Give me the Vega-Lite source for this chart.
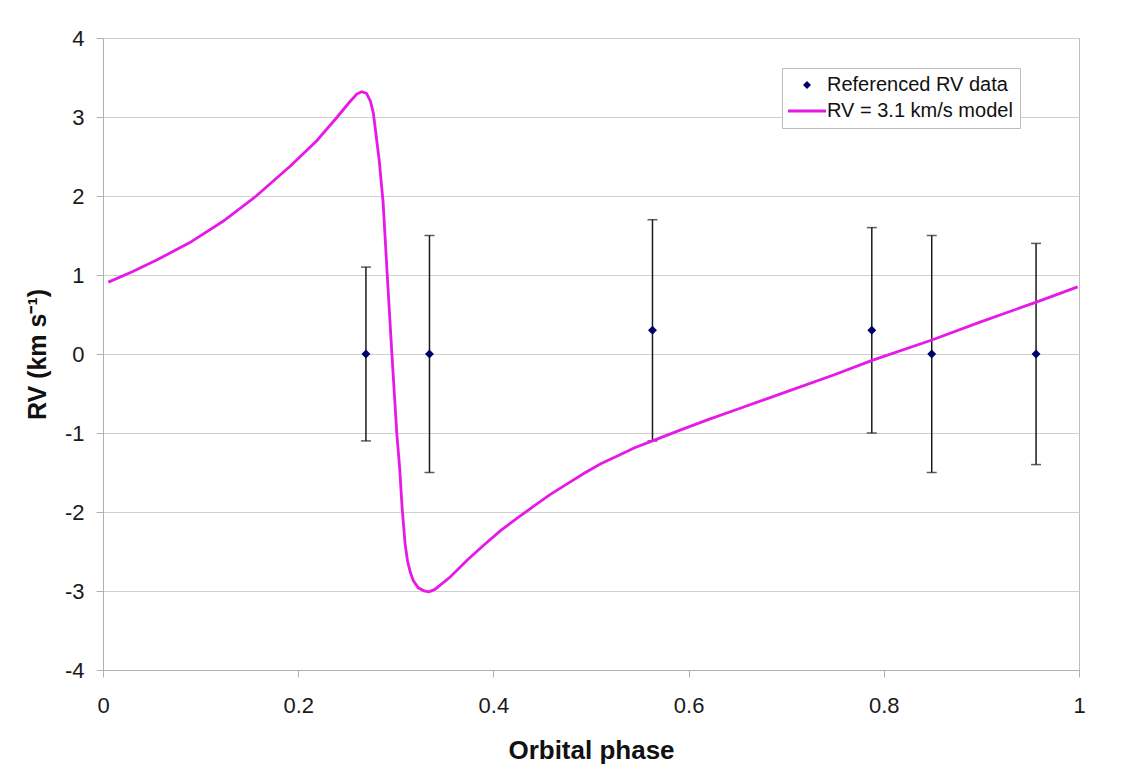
{
  "$schema": "https://vega.github.io/schema/vega-lite/v6.json",
  "width": 976,
  "height": 632,
  "autosize": "none",
  "padding": {"left": 103, "top": 38, "right": 58, "bottom": 105},
  "background": "white",
  "config": {
    "font": "Liberation Sans",
    "view": {"stroke": "#bdbdbd", "strokeWidth": 1}
  },
  "datasets": {
    "rv": [
      {"phase": 0.2694, "rv": 0.0, "lo": -1.1, "hi": 1.1, "series": "Referenced RV data"},
      {"phase": 0.3345, "rv": 0.0, "lo": -1.5, "hi": 1.5, "series": "Referenced RV data"},
      {"phase": 0.563, "rv": 0.3, "lo": -1.1, "hi": 1.7, "series": "Referenced RV data"},
      {"phase": 0.7877, "rv": 0.3, "lo": -1.0, "hi": 1.6, "series": "Referenced RV data"},
      {"phase": 0.8491, "rv": 0.0, "lo": -1.5, "hi": 1.5, "series": "Referenced RV data"},
      {"phase": 0.956, "rv": 0.0, "lo": -1.4, "hi": 1.4, "series": "Referenced RV data"}
    ],
    "model": [
      {"phase": 0.0055, "rv": 0.91, "series": "RV = 3.1 km/s model"},
      {"phase": 0.03, "rv": 1.04, "series": "RV = 3.1 km/s model"},
      {"phase": 0.055, "rv": 1.19, "series": "RV = 3.1 km/s model"},
      {"phase": 0.089, "rv": 1.41, "series": "RV = 3.1 km/s model"},
      {"phase": 0.123, "rv": 1.68, "series": "RV = 3.1 km/s model"},
      {"phase": 0.157, "rv": 2.0, "series": "RV = 3.1 km/s model"},
      {"phase": 0.192, "rv": 2.38, "series": "RV = 3.1 km/s model"},
      {"phase": 0.219, "rv": 2.7, "series": "RV = 3.1 km/s model"},
      {"phase": 0.24, "rv": 3.0, "series": "RV = 3.1 km/s model"},
      {"phase": 0.252, "rv": 3.18, "series": "RV = 3.1 km/s model"},
      {"phase": 0.26, "rv": 3.29, "series": "RV = 3.1 km/s model"},
      {"phase": 0.265, "rv": 3.32, "series": "RV = 3.1 km/s model"},
      {"phase": 0.27, "rv": 3.3, "series": "RV = 3.1 km/s model"},
      {"phase": 0.274, "rv": 3.2, "series": "RV = 3.1 km/s model"},
      {"phase": 0.277, "rv": 3.05, "series": "RV = 3.1 km/s model"},
      {"phase": 0.28, "rv": 2.75, "series": "RV = 3.1 km/s model"},
      {"phase": 0.283, "rv": 2.45, "series": "RV = 3.1 km/s model"},
      {"phase": 0.287, "rv": 1.92, "series": "RV = 3.1 km/s model"},
      {"phase": 0.291, "rv": 1.05, "series": "RV = 3.1 km/s model"},
      {"phase": 0.296, "rv": 0.0, "series": "RV = 3.1 km/s model"},
      {"phase": 0.301, "rv": -1.0, "series": "RV = 3.1 km/s model"},
      {"phase": 0.304, "rv": -1.45, "series": "RV = 3.1 km/s model"},
      {"phase": 0.3065, "rv": -1.95, "series": "RV = 3.1 km/s model"},
      {"phase": 0.3095, "rv": -2.4, "series": "RV = 3.1 km/s model"},
      {"phase": 0.312, "rv": -2.62, "series": "RV = 3.1 km/s model"},
      {"phase": 0.315, "rv": -2.77, "series": "RV = 3.1 km/s model"},
      {"phase": 0.318, "rv": -2.87, "series": "RV = 3.1 km/s model"},
      {"phase": 0.323, "rv": -2.96, "series": "RV = 3.1 km/s model"},
      {"phase": 0.329, "rv": -3.0, "series": "RV = 3.1 km/s model"},
      {"phase": 0.334, "rv": -3.01, "series": "RV = 3.1 km/s model"},
      {"phase": 0.34, "rv": -2.98, "series": "RV = 3.1 km/s model"},
      {"phase": 0.356, "rv": -2.82, "series": "RV = 3.1 km/s model"},
      {"phase": 0.373, "rv": -2.61, "series": "RV = 3.1 km/s model"},
      {"phase": 0.39, "rv": -2.42, "series": "RV = 3.1 km/s model"},
      {"phase": 0.407, "rv": -2.24, "series": "RV = 3.1 km/s model"},
      {"phase": 0.424, "rv": -2.08, "series": "RV = 3.1 km/s model"},
      {"phase": 0.441, "rv": -1.93, "series": "RV = 3.1 km/s model"},
      {"phase": 0.458, "rv": -1.78, "series": "RV = 3.1 km/s model"},
      {"phase": 0.476, "rv": -1.64, "series": "RV = 3.1 km/s model"},
      {"phase": 0.493, "rv": -1.51, "series": "RV = 3.1 km/s model"},
      {"phase": 0.51, "rv": -1.39, "series": "RV = 3.1 km/s model"},
      {"phase": 0.527, "rv": -1.29, "series": "RV = 3.1 km/s model"},
      {"phase": 0.544, "rv": -1.19, "series": "RV = 3.1 km/s model"},
      {"phase": 0.563, "rv": -1.1, "series": "RV = 3.1 km/s model"},
      {"phase": 0.592, "rv": -0.96, "series": "RV = 3.1 km/s model"},
      {"phase": 0.62, "rv": -0.83, "series": "RV = 3.1 km/s model"},
      {"phase": 0.65, "rv": -0.7, "series": "RV = 3.1 km/s model"},
      {"phase": 0.7, "rv": -0.48, "series": "RV = 3.1 km/s model"},
      {"phase": 0.75, "rv": -0.26, "series": "RV = 3.1 km/s model"},
      {"phase": 0.788, "rv": -0.08, "series": "RV = 3.1 km/s model"},
      {"phase": 0.85, "rv": 0.18, "series": "RV = 3.1 km/s model"},
      {"phase": 0.9, "rv": 0.41, "series": "RV = 3.1 km/s model"},
      {"phase": 0.957, "rv": 0.66, "series": "RV = 3.1 km/s model"},
      {"phase": 0.9986, "rv": 0.85, "series": "RV = 3.1 km/s model"}
    ]
  },
  "layer": [
    {
      "data": {"name": "rv"},
      "mark": {"type": "errorbar", "color": "#1a1a1a", "thickness": 1.5, "ticks": {"size": 10, "thickness": 1.5, "color": "#1a1a1a"}},
      "encoding": {
        "x": {
          "field": "phase", "type": "quantitative",
          "scale": {"domain": [0, 1], "nice": false, "zero": false},
          "axis": {
            "values": [0, 0.2, 0.4, 0.6, 0.8, 1], "labelExpr": "'' + datum.value", "grid": false,
            "labelFlush": false,
            "tickSize": 7, "tickColor": "#b0b0b0", "domainColor": "#b0b0b0",
            "labelFontSize": 22, "labelColor": "#1a1a1a", "labelPadding": 18,
            "title": "Orbital phase", "titleFontSize": 26, "titleFontWeight": "bold",
            "titleColor": "#111111", "titleBaseline": "alphabetic", "titleY": 88
          }
        },
        "y": {
          "field": "lo", "type": "quantitative",
          "scale": {"domain": [-4, 4], "nice": false, "zero": false},
          "axis": {
            "values": [-4, -3, -2, -1, 0, 1, 2, 3, 4], "labelExpr": "'' + datum.value", "grid": true, "gridColor": "#cfcfcf",
            "labelFlush": false,
            "tickSize": 7, "tickColor": "#b0b0b0", "domainColor": "#b0b0b0",
            "labelFontSize": 22, "labelColor": "#1a1a1a", "labelPadding": 12,
            "title": "RV (km s⁻¹)", "titleFontSize": 25, "titleFontWeight": "bold",
            "titleColor": "#111111", "titleAngle": -90, "titleAlign": "center",
            "titleBaseline": "middle", "titleX": -66, "titleY": 316
          }
        },
        "y2": {"field": "hi"}
      }
    },
    {
      "data": {"name": "model"},
      "mark": {"type": "line", "strokeWidth": 2.8},
      "encoding": {
        "x": {"field": "phase", "type": "quantitative"},
        "y": {"field": "rv", "type": "quantitative"},
        "color": {"field": "series", "type": "nominal"}
      }
    },
    {
      "data": {"name": "rv"},
      "mark": {"type": "point", "filled": true, "size": 80, "opacity": 1},
      "encoding": {
        "x": {"field": "phase", "type": "quantitative"},
        "y": {"field": "rv", "type": "quantitative"},
        "color": {
          "field": "series", "type": "nominal",
          "scale": {"domain": ["Referenced RV data", "RV = 3.1 km/s model"], "range": ["#000066", "#e619e6"]},
          "legend": {
            "title": null, "orient": "none", "legendX": 679, "legendY": 30,
            "fillColor": "white", "strokeColor": "#bdbdbd", "padding": 7,
            "labelFontSize": 20, "labelColor": "#111111", "labelFont": "Liberation Sans", "labelLimit": 0,
            "symbolSize": 64, "symbolOffset": 8, "labelOffset": 10, "rowPadding": 6,
            "symbolOpacity": 1,
            "encode": {
              "symbols": {
                "update": {
                  "stroke": {"scale": "color", "field": "value"},
                  "strokeWidth": {"signal": "datum.value === 'RV = 3.1 km/s model' ? 3 : 0"}
                }
              }
            }
          }
        },
        "shape": {
          "field": "series", "type": "nominal",
          "scale": {"domain": ["Referenced RV data", "RV = 3.1 km/s model"], "range": ["diamond", "M-4.75,0H4.75"]},
          "legend": {
            "title": null, "orient": "none", "legendX": 679, "legendY": 30,
            "fillColor": "white", "strokeColor": "#bdbdbd", "padding": 7,
            "labelFontSize": 20, "labelColor": "#111111", "labelFont": "Liberation Sans", "labelLimit": 0,
            "symbolSize": 64, "symbolOffset": 8, "labelOffset": 10, "rowPadding": 6,
            "symbolOpacity": 1,
            "encode": {
              "symbols": {
                "update": {
                  "stroke": {"scale": "color", "field": "value"},
                  "strokeWidth": {"signal": "datum.value === 'RV = 3.1 km/s model' ? 3 : 0"}
                }
              }
            }
          }
        }
      }
    }
  ]
}
